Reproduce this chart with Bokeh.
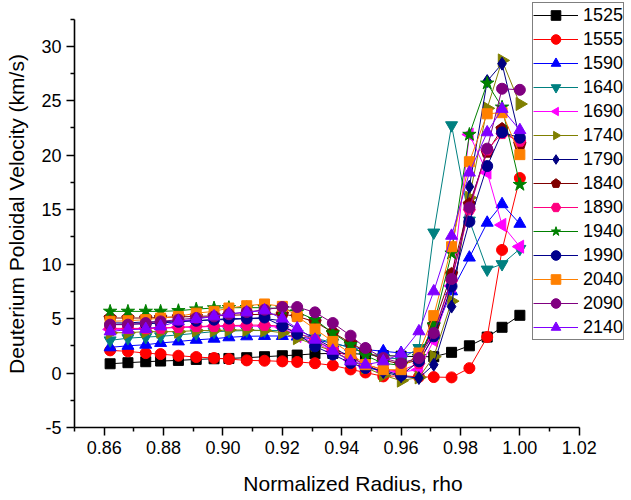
import numpy as np
from bokeh.plotting import figure
from bokeh.models import Range1d, FixedTicker, Legend, LegendItem, PrintfTickFormatter
from bokeh.embed import file_html
from bokeh.resources import INLINE

rho = [0.862, 0.868, 0.874, 0.879, 0.885, 0.891, 0.897, 0.902, 0.908, 0.914,
       0.920, 0.925, 0.931, 0.937, 0.943, 0.948, 0.954, 0.960, 0.966, 0.971,
       0.977, 0.983, 0.989, 0.994, 1.000]

v1525 = [0.85, 0.95, 1.04, 1.10, 1.16, 1.25, 1.31, 1.34, 1.41, 1.50, 1.59, 1.65, 1.77,
         1.8, 1.8, 1.7, 1.6, 1.55, 1.5, 1.5, 1.9, 2.5, 3.3, 4.2, 5.3]
v1555 = [2.08, 1.99, 1.83, 1.74, 1.59, 1.47, 1.38, 1.28, 1.16, 1.13, 1.07, 1.02, 0.90,
         0.70, 0.33, 0.05, -0.31, -0.25, -0.35, -0.37, -0.40, 0.45, 3.3, 11.3, 17.9]
v1590 = [2.36, 2.5, 2.6, 2.76, 2.9, 3.05, 3.15, 3.28, 3.37, 3.4, 3.4, 3.35, 3.1,
         2.7, 2.4, 2.15, 2.0, 1.84, 1.9, 3.5, 7.5, 10.6, 13.8, 15.5, 13.7]
v1640 = [3.0, 3.2, 3.3, 3.37, 3.5, 3.65, 3.8, 3.85, 3.9, 3.9, 3.9, 3.6, 3.2,
         2.8, 2.3, 1.8, 1.4, 1.3, 2.3, 12.9, 22.75, 14.0, 9.5, 10.0, 11.4]
v1690 = [4.0, 4.0, 4.1, 4.1, 4.2, 4.2, 4.3, 4.3, 4.3, 4.3, 4.2, 3.4, 2.8,
         2.0, 1.2, 0.6, 0.2, 0.1, 0.3, 3.0, 8.0, 21.9, 18.4, 13.6, 11.6]
v1740 = [3.7, 3.7, 3.8, 3.8, 3.8, 3.9, 3.9, 3.95, 3.95, 3.9, 3.7, 3.2, 2.6,
         2.0, 1.2, 0.5, -0.2, -0.7, -0.4, 1.5, 6.6, 16.1, 24.3, 28.7, 24.7]
v1790 = [4.6, 4.6, 4.7, 4.7, 4.8, 4.8, 4.9, 4.9, 5.0, 5.0, 4.8, 4.0, 3.2,
         2.3, 1.5, 0.7, 0.1, -0.3, -0.46, 0.77, 6.1, 17.1, 26.8, 28.4, 21.5]
v1840 = [5.05, 5.05, 5.05, 5.1, 5.15, 5.2, 5.25, 5.3, 5.35, 5.4, 5.4, 5.2, 4.7,
         3.73, 2.76, 2.0, 1.2, 0.8, 1.2, 4.4, 9.1, 15.5, 20.3, 22.4, 21.0]
v1890 = [4.1, 4.1, 4.1, 4.13, 4.2, 4.28, 4.3, 4.35, 4.4, 4.4, 4.3, 3.7, 3.0,
         2.2, 1.4, 0.8, 0.3, 0.2, 0.9, 3.5, 8.5, 15.0, 20.5, 22.0, 21.3]
v1940 = [5.66, 5.66, 5.66, 5.66, 5.72, 5.87, 5.97, 6.0, 6.0, 6.0, 5.9, 5.6, 4.9,
         3.67, 2.6, 1.6, 0.9, 0.7, 1.5, 4.4, 11.0, 21.9, 26.6, 24.4, 17.3]
v1990 = [4.44, 4.5, 4.5, 4.6, 4.7, 4.8, 4.9, 5.0, 5.0, 5.1, 4.3, 3.6, 2.45,
         1.7, 0.92, 0.46, 0.24, -0.2, 1.07, 3.37, 7.96, 13.9, 19.0, 22.1, 21.6]
v2040 = [4.75, 4.8, 4.9, 5.05, 5.2, 5.5, 5.66, 5.97, 6.18, 6.34, 6.12, 5.2, 4.04,
         2.9, 1.8, 0.77, 0.31, 0.31, 1.84, 5.27, 11.6, 19.4, 23.8, 23.9, 20.05]
v2090 = [4.44, 4.44, 4.59, 4.74, 4.9, 5.05, 5.2, 5.4, 5.6, 5.81, 6.06, 6.06, 5.57,
         4.59, 3.43, 2.3, 1.38, 0.92, 1.38, 3.67, 8.63, 15.2, 20.6, 26.1, 26.0]
v2140 = [3.82, 3.98, 4.04, 4.28, 4.74, 4.96, 5.2, 5.45, 5.57, 5.75, 5.0, 4.1, 3.06,
         2.05, 1.07, 0.77, 1.07, 1.78, 3.83, 7.5, 12.6, 18.4, 22.1, 24.25, 22.3]

labels = ["1525", "1555", "1590", "1640", "1690", "1740", "1790",
          "1840", "1890", "1940", "1990", "2040", "2090", "2140"]
series = [v1525, v1555, v1590, v1640, v1690, v1740, v1790,
          v1840, v1890, v1940, v1990, v2040, v2090, v2140]
colors = ["#000000", "#FF0000", "#0000FF", "#008080", "#FF00FF", "#808000", "#000080",
          "#800000", "#FF0080", "#008000", "#00008C", "#FF8000", "#800080", "#8000FF"]
# (kind, n-sides or marker name, angle, size)
markers = [("m", "square", 0, 10), ("m", "circle", 0, 11), ("m", "triangle", 0, 12),
           ("m", "inverted_triangle", 0, 12), ("n", 3, np.pi / 2, 7.5),
           ("n", 3, -np.pi / 2, 7.5), ("m", "diamond", 0, 13), ("n", 5, 0, 6.5),
           ("m", "hex", 0, 12), ("m", "star", 0, 14), ("m", "circle", 0, 11),
           ("m", "square", 0, 10), ("m", "circle", 0, 11), ("m", "triangle", 0, 12)]

FONT = "Liberation Sans"

p = figure(width=631, height=500, output_backend="svg", toolbar_location=None,
           x_range=Range1d(0.85, 1.0376), y_range=Range1d(-5, 34.2),
           min_border_left=74, min_border_right=0, min_border_top=0, min_border_bottom=73)
p.outline_line_color = None
p.xgrid.visible = False
p.ygrid.visible = False
p.background_fill_color = "white"

items = []
for lab, ys, c, (kind, m, a, s) in zip(labels, series, colors, markers):
    r_line = p.line(rho, ys, line_color=c, line_width=1)
    if kind == "n":
        r_mark = p.ngon(rho, ys, radius=s, radius_units="screen", n=m, angle=a,
                        fill_color=c, line_color=c)
    else:
        r_mark = p.scatter(rho, ys, marker=m, size=s, fill_color=c, line_color=c)
    items.append(LegendItem(label=lab, renderers=[r_line, r_mark]))

legend = Legend(items=items, location=(458, 87))
legend.border_line_color = "black"
legend.border_line_width = 1
legend.background_fill_alpha = 1
legend.padding = 0
legend.margin = 0
legend.spacing = 0
legend.glyph_width = 45
legend.glyph_height = 24
legend.label_height = 24
legend.label_standoff = 5
legend.label_text_font = FONT
legend.label_text_font_size = "18px"
legend.label_text_color = "black"
p.add_layout(legend, "center")

xt = [0.86, 0.88, 0.90, 0.92, 0.94, 0.96, 0.98, 1.00, 1.02]
xmt = [0.85, 0.87, 0.89, 0.91, 0.93, 0.95, 0.97, 0.99, 1.01]
yt = [-5, 0, 5, 10, 15, 20, 25, 30]
ymt = [-2.5, 2.5, 7.5, 12.5, 17.5, 22.5, 27.5, 32.5]

xa = p.xaxis[0]
xa.ticker = FixedTicker(ticks=xt, minor_ticks=xmt)
xa.formatter = PrintfTickFormatter(format="%.2f")
xa.bounds = (0.85, 1.02)
ya = p.yaxis[0]
ya.ticker = FixedTicker(ticks=yt, minor_ticks=ymt)
ya.formatter = PrintfTickFormatter(format="%d")
ya.bounds = (-5, 32.5)

for ax in (xa, ya):
    ax.axis_line_width = 1.6
    ax.axis_line_color = "black"
    ax.major_tick_line_width = 1.5
    ax.minor_tick_line_width = 1.5
    ax.major_tick_line_color = "black"
    ax.minor_tick_line_color = "black"
    ax.major_tick_out = 8
    ax.major_tick_in = 0
    ax.minor_tick_out = 4
    ax.minor_tick_in = 0
    ax.major_label_text_font = FONT
    ax.major_label_text_font_size = "18px"
    ax.major_label_text_color = "black"
    ax.axis_label_text_font = FONT
    ax.axis_label_text_font_size = "21px"
    ax.axis_label_text_font_style = "normal"
    ax.axis_label_text_color = "black"
    ax.major_label_standoff = 5

xa.axis_label = "Normalized Radius, rho"
xa.axis_label_standoff = 15
ya.axis_label = "Deuterium Poloidal Velocity (km/s)"
ya.axis_label_standoff = 10

open("out.html", "w").write(file_html(p, INLINE))
